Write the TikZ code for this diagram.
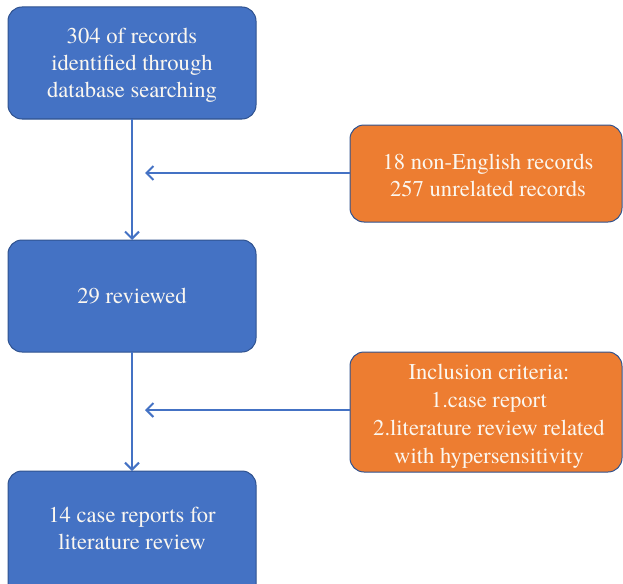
\documentclass[tikz,border=0pt]{standalone}
\usepackage{fontspec}
\newfontfamily\termes{texgyretermes-regular.otf}
\usetikzlibrary{arrows.meta}
\definecolor{boxblue}{HTML}{4472C4}
\definecolor{boxorange}{HTML}{ED7D31}
\definecolor{edgeblue}{HTML}{2F528F}
\definecolor{txt}{HTML}{FBF7F0}
\tikzset{
  bluebox/.style={draw=edgeblue, line width=1pt, fill=boxblue, rounded corners=14pt},
  orangebox/.style={draw=edgeblue, line width=1pt, fill=boxorange, rounded corners=14pt},
  lbl/.style={text=txt, align=center, font=\termes\fontsize{22.6}{27}\selectfont, inner sep=0pt},
  conn/.style={draw=boxblue, line width=2pt},
  arr/.style={conn, -{Straight Barb[length=7pt,width=14pt,line width=2pt]}}
}
\begin{document}
\begin{tikzpicture}[x=1pt,y=-1pt]
\useasboundingbox (0,0) rectangle (623,583);
\begin{scope}
\clip (0,0) rectangle (623,583);
% boxes
\draw[bluebox] (8,7) rectangle (256,119);
\node[lbl] (b1) at (132,65.5) {304 of records\\identified through\\database searching};
\coordinate (b1s) at (132,119);
\draw[bluebox] (8,240) rectangle (256,352);
\node[lbl] (b2) at (132,296.5) {29 reviewed};
\coordinate (b2n) at (132,240);
\coordinate (b2s) at (132,352);
\draw[bluebox] (8,471) rectangle (256,600);
\node[lbl] (b3) at (132,528) {14 case reports for\\literature review};
\coordinate (b3n) at (132,471);
\draw[orangebox] (350,125) rectangle (622,222);
\node[lbl] (o1) at (488,175) {18 non-English records\\257 unrelated records};
\coordinate (o1w) at (350,173);
\draw[orangebox] (350,352) rectangle (622,472);
\node[lbl, font=\termes\fontsize{22.6}{28}\selectfont] (o2) at (489,416) {Inclusion criteria:\\1.case report\\2.literature review related\\with hypersensitivity};
\coordinate (o2w) at (350,410);
% connectors
\coordinate (m1) at (132,173);
\coordinate (m2) at (132,410);
\draw[arr] (b1s) -- (b2n);
\draw[arr] (o1w) -- ([xshift=13pt]m1);
\draw[arr] (b2s) -- (b3n);
\draw[arr] (o2w) -- ([xshift=13pt]m2);
\end{scope}
\end{tikzpicture}
\end{document}
